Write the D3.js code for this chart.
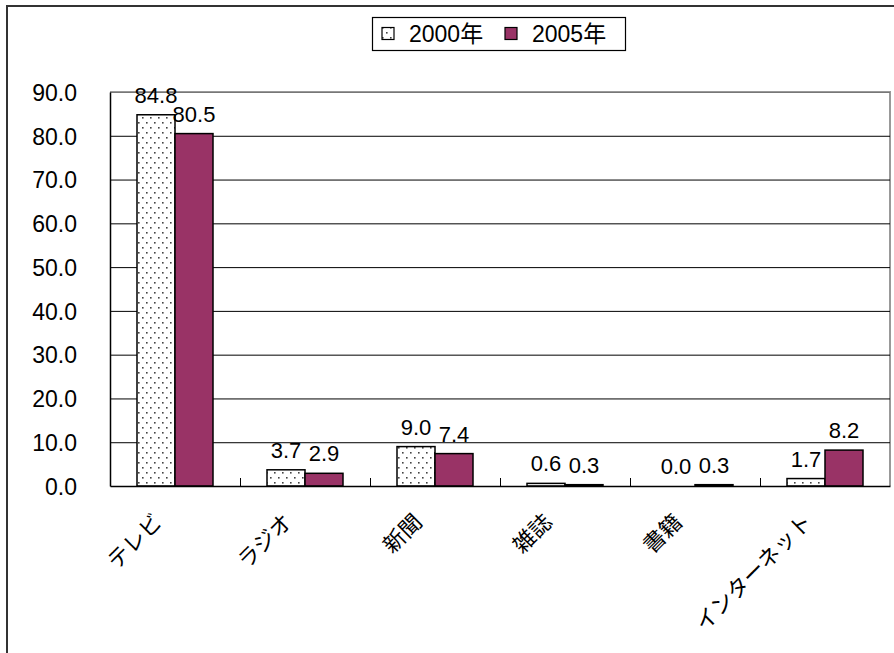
<!DOCTYPE html>
<html>
<head>
<meta charset="utf-8">
<script src="https://cdn.jsdelivr.net/npm/d3@7"></script>
<style>
  html, body { margin: 0; padding: 0; background: #fff; }
  svg { display: block; }
  text { font-family: "Liberation Sans", Arial, "Noto Sans CJK JP", sans-serif; fill: #000; }
</style>
</head>
<body>
<svg id="chart" width="894" height="653"></svg>
<script>
// Media categories and the share for each survey year
const categories = ["テレビ", "ラジオ", "新聞", "雑誌", "書籍", "インターネット"];
const seriesNames = ["2000年", "2005年"];
const values2000 = [84.8, 3.7, 9.0, 0.6, 0.0, 1.7];
const values2005 = [80.5, 2.9, 7.4, 0.3, 0.3, 8.2];
const yTicks = [0, 10, 20, 30, 40, 50, 60, 70, 80, 90];

const svg = d3.select("#chart");
const W = 894, H = 653;
const plot = { left: 110, right: 890, top: 92, bottom: 486 };

// Dotted fill for the 2000 series
const defs = svg.append("defs");
const pat = defs.append("pattern")
  .attr("id", "dots")
  .attr("patternUnits", "userSpaceOnUse")
  .attr("width", 8).attr("height", 10);
pat.append("rect").attr("width", 8).attr("height", 10).attr("fill", "#fff");
pat.append("rect").attr("x", 2).attr("y", 2).attr("width", 1.6).attr("height", 1.6).attr("fill", "#444");
pat.append("rect").attr("x", 6).attr("y", 7).attr("width", 1.6).attr("height", 1.6).attr("fill", "#444");

const fills = ["url(#dots)", "#993366"];

// Outer chart frame
svg.append("rect")
  .attr("x", 7).attr("y", 6).attr("width", W + 10).attr("height", H + 10)
  .attr("fill", "none").attr("stroke", "#333").attr("stroke-width", 2);

const x0 = d3.scaleBand().domain(categories).range([plot.left, plot.right]).paddingInner(0).paddingOuter(0);
const inner = d3.scaleBand().domain(seriesNames).range([27, x0.bandwidth() - 27]).padding(0);
const y = d3.scaleLinear().domain([0, 90]).range([plot.bottom, plot.top]);

// Plot area border (top/right in grey)
svg.append("path")
  .attr("d", `M${plot.left},${plot.top}H${plot.right}V${plot.bottom}`)
  .attr("fill", "none").attr("stroke", "#999").attr("stroke-width", 2);

// Horizontal gridlines
svg.append("g")
  .selectAll("line")
  .data(yTicks.slice(1))
  .join("line")
  .attr("x1", plot.left).attr("x2", plot.right)
  .attr("y1", d => y(d) + 0.5).attr("y2", d => y(d) + 0.5)
  .attr("stroke", d => d === 90 ? "#777" : "#000").attr("stroke-width", 1);

// Y axis
const yAxis = d3.axisLeft(y).tickValues(yTicks).tickFormat(d3.format(".1f")).tickSize(0).tickPadding(33);
const gy = svg.append("g").attr("transform", `translate(${plot.left},0)`).call(yAxis);
gy.select(".domain").attr("stroke", "#000").attr("stroke-width", 1.5);
gy.selectAll("text").attr("font-size", 23).attr("dy", "0.36em").style("fill", "#000")
  .style("font-family", "'Liberation Sans', Arial, sans-serif");

// Bars
const series = [values2000, values2005];
const gBars = svg.append("g");
series.forEach((vals, si) => {
  gBars.selectAll(null)
    .data(categories)
    .join("rect")
    .attr("x", c => x0(c) + inner(seriesNames[si]))
    .attr("width", inner.bandwidth())
    .attr("y", (c, i) => y(vals[i]))
    .attr("height", (c, i) => y(0) - y(vals[i]))
    .attr("fill", fills[si])
    .attr("stroke", "#000").attr("stroke-width", 1.5);
});

// X axis with inward tick marks at category boundaries
const xAxis = d3.axisBottom(x0).tickSize(0).tickFormat("");
const gx = svg.append("g").attr("transform", `translate(0,${plot.bottom})`).call(xAxis);
gx.select(".domain").attr("stroke", "#000").attr("stroke-width", 1.5);
svg.append("g")
  .selectAll("line")
  .data(categories.slice(1))
  .join("line")
  .attr("x1", c => x0(c) + 0.5).attr("x2", c => x0(c) + 0.5)
  .attr("y1", plot.bottom).attr("y2", plot.bottom - 8)
  .attr("stroke", "#000").attr("stroke-width", 1);

// Value labels
series.forEach((vals, si) => {
  svg.append("g").selectAll("text")
    .data(categories)
    .join("text")
    .attr("x", c => x0(c) + inner(seriesNames[si]) + inner.bandwidth() / 2)
    .attr("y", (c, i) => y(vals[i]) - 12)
    .attr("text-anchor", "middle")
    .attr("font-size", 22)
    .text((c, i) => d3.format(".1f")(vals[i]));
});

// Category labels, rotated
svg.append("g").selectAll("text")
  .data(categories)
  .join("text")
  .attr("transform", c => `translate(${x0(c) + x0.bandwidth() / 2 - 17},${plot.bottom + 32}) rotate(-45)`)
  .attr("text-anchor", "end")
  .attr("dy", "0.35em")
  .attr("font-size", 22)
  .style("font-family", "'Noto Sans CJK JP', sans-serif")
  .text(c => c);

// Legend
const lg = svg.append("g");
lg.append("rect").attr("x", 372.5).attr("y", 17.5).attr("width", 253).attr("height", 33)
  .attr("fill", "#fff").attr("stroke", "#000").attr("stroke-width", 1.2);
const legendX = [382, 505];
seriesNames.forEach((s, i) => {
  lg.append("rect").attr("x", legendX[i]).attr("y", 27.5).attr("width", 12).attr("height", 12)
    .attr("fill", fills[i]).attr("stroke", "#000").attr("stroke-width", 1.2);
  lg.append("text").attr("x", legendX[i] + 27).attr("y", 41.5)
    .attr("font-size", 23).text(s);
});
</script>
</body>
</html>
